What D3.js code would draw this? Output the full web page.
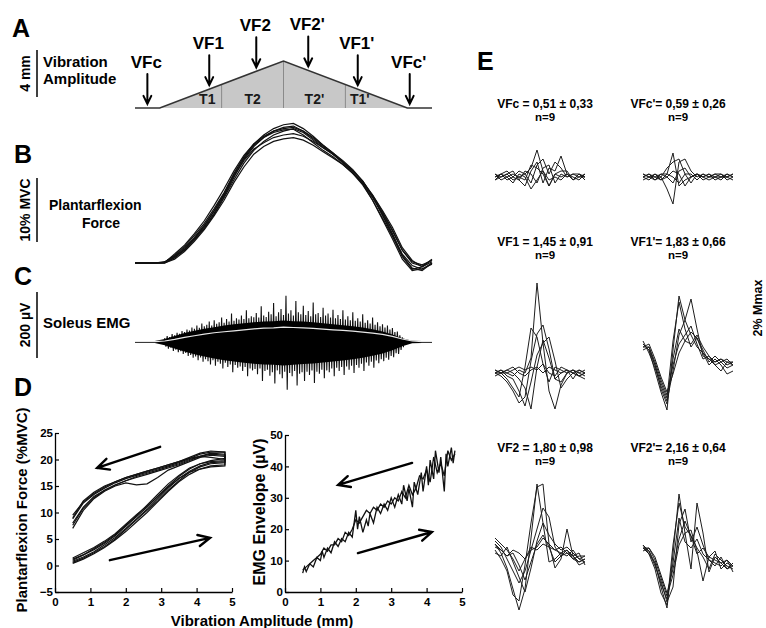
<!DOCTYPE html>
<html>
<head>
<meta charset="utf-8">
<script src="https://cdn.jsdelivr.net/npm/d3@7"></script>
<style>
  body { margin: 0; background: #fff; }
  text { font-family: "Liberation Sans", Arial, sans-serif; font-weight: bold; fill: #000; }
</style>
</head>
<body>
<svg id="fig" width="766" height="628"></svg>
<script>
// ---------- data ----------
// A: vibration protocol (time s, amplitude mm)
const protoTime = [0, 5, 30, 55, 60];
const protoAmp = [0, 0, 4, 0, 0];
const segBounds = [17.5, 30, 42.5];
const segNames = ["T1", "T2", "T2'", "T1'"];
const segLabelTime = [14.6, 23.75, 36.25, 45.4];
const vfNames = ["VFc", "VF1", "VF2", "VF2'", "VF1'", "VFc'"];
const vfTime = [2.5, 15, 24.5, 35, 45, 55.5];

// B: plantarflexion force (%MVC), sampled every 2 s
const forceTime = d3.range(0, 61, 2);
const forceTraces = [
  [0,0,0,0.1,1.2,2.6,4.3,6.2,8.5,11,14,16.6,18.6,20,21,21.6,21.8,21,19.8,18.4,17.2,16,14.6,12.8,10.4,7.6,4.6,1.2,-0.8,-1.2,0],
  [0,0,0,0,0.8,2,3.6,5.4,7.6,10.2,13,15.6,17.6,19,20,20.6,21,20.4,19.2,18,17,15.8,14.4,12.8,10.6,8,5.2,2,0,-0.5,0.5],
  [0,0,0,0.2,1,2.2,3.8,5.6,7.8,10.4,13.4,16.2,18.2,19.6,20.6,21.2,21.4,20.6,19.4,18.2,17,15.6,14,12.2,9.8,7,4.2,1,-1,-0.6,0.2],
  [0,0,0,0,0.6,1.8,3.4,5.2,7.4,9.8,12.6,15,17,18.2,19,19.4,19.6,19.2,18.4,17.4,16.4,15.4,14,12.4,10.2,7.8,5,2,0.2,-0.3,0.4],
  [0,0,0,0.1,1.4,2.8,4.6,6.6,9,11.6,14.4,16.8,18.6,19.8,20.6,21,21.2,20.6,19.6,18.4,17.2,15.8,14.2,12.4,9.8,6.8,3.8,0.6,-1.2,-0.9,-0.2],
  [0,0,0,0,0.9,2.1,3.8,5.8,8.2,10.8,13.8,16.4,18.4,19.6,20.4,20.8,20.9,20,18.8,17.6,16.6,15.4,14,12.6,10.6,8.2,5.6,2.4,0.4,-0.6,0.6],
  [0,0,0,0.1,1.1,2.4,4,5.9,8.1,10.6,13.6,16,17.8,18.8,19.6,20,20.2,19.8,19,18,17,15.8,14.4,12.8,10.4,7.4,4.4,1.4,-0.4,-1,0]
];

// C: soleus EMG (µV)
const emgCoreTime = d3.range(0, 61, 2);
const emgCoreUp = [3,3,3,9,18,27,34,40,45,50,54,57,60,62,63,65,63,62,60,57,54,51,48,44,39,32,23,11,4,3,3];
const emgCoreDown = [3,3,3,10,20,29,37,44,50,55,59,63,66,68,69,71,69,67,65,62,59,56,52,48,42,35,25,13,4,3,3];
const emgRms = [1,1,1,3,8,14,19,24,28,31,34,37,40,42,43,45,44,43,41,39,37,35,33,30,27,23,17,9,3,1,1];
const emgSpikeTime = d3.range(6, 54.01, 0.5);
const emgSpikeUp = [
  12,18,15,24,20,28,25,33,30,38, 35,44,40,50,43,56,48,52,62,50,
  66,55,60,74,58,70,62,86,64,72, 68,80,70,96,72,78,75,88,74,108,
  80,76,92,84,118,78,90,100,82,140, 86,96,80,124,90,84,110,82,94,78,
  120,84,88,76,104,80,86,74,98,72, 82,70,96,68,78,66,90,64,72,62,
  84,58,66,56,74,52,60,48,54,44, 50,38,42,30,32,20,14];
const emgSpikeDown = [
  14,20,17,27,23,31,28,36,33,42, 39,48,44,55,47,60,52,58,68,55,
  72,60,66,80,63,76,68,92,70,78, 74,88,76,104,80,86,82,98,80,118,
  88,84,102,92,126,86,98,110,90,145, 94,104,88,132,96,92,118,90,100,86,
  124,90,96,84,110,86,92,80,104,78, 88,76,100,74,84,72,94,70,78,66,
  88,62,72,60,78,56,64,52,58,48, 54,42,46,34,36,24,16];

// D left: force vs vibration amplitude loops
const loopAmp = [0.5,0.8,1.1,1.4,1.7,2.0,2.3,2.6,2.9,3.2,3.5,3.8,4.1,4.4,4.8];
const loopUp = [
  [0.8,1.6,2.6,3.9,5.3,7.0,8.8,10.6,12.6,14.6,16.4,17.8,18.8,19.4,19.6],
  [1.2,2.0,3.0,4.2,5.6,7.4,9.2,11.0,13.0,15.0,16.8,18.2,19.2,19.8,20.2],
  [0.4,1.2,2.2,3.4,4.8,6.4,8.2,10.0,12.0,14.0,15.8,17.2,18.2,18.8,19.0],
  [1.0,2.0,3.2,4.4,5.8,7.6,9.4,11.4,13.4,15.4,17.0,18.4,19.2,19.6,19.8],
  [0.6,1.4,2.4,3.6,5.0,6.8,8.6,10.4,12.2,14.2,16.0,17.6,18.6,19.2,19.4],
  [1.4,2.4,3.4,4.6,6.0,7.8,9.6,11.2,13.0,14.8,16.4,17.6,18.2,18.6,18.8]
];
const loopDown = [
  [8.0,11.0,13.0,14.2,15.2,16.0,16.6,17.2,17.8,18.4,19.0,19.8,20.6,21.2,21.0],
  [9.5,12.0,13.6,14.8,15.8,16.6,17.2,17.8,18.4,19.0,19.6,20.4,21.2,21.6,21.4],
  [7.0,10.4,12.6,14.0,15.0,15.6,15.2,15.4,16.6,18.0,18.8,19.6,20.4,20.8,20.6],
  [8.8,11.8,13.4,14.6,15.6,16.4,17.0,17.6,18.2,18.8,19.4,20.2,21.0,21.4,21.4],
  [7.6,10.8,12.8,14.2,15.2,16.0,16.8,17.4,18.0,18.6,19.2,20.0,20.6,21.0,20.8],
  [9.0,12.2,13.8,15.0,15.8,16.6,17.2,17.8,18.4,19.0,19.6,20.2,20.6,20.4,20.0]
];

// D right: EMG envelope vs vibration amplitude
const envAmpUp = [0.5,0.55,0.6,0.7,0.8,0.9,1.0,1.05,1.1,1.2,1.3,1.4,1.5,1.6,1.7,1.8,1.9,2.0,2.05,2.1,
  2.2,2.3,2.35,2.4,2.5,2.6,2.7,2.8,2.9,3.0,3.1,3.2,3.3,3.35,3.45,3.5,3.6,3.65,3.75,3.85,
  3.9,4.0,4.05,4.1,4.2,4.25,4.35,4.4,4.5,4.55,4.6,4.7,4.75,4.8];
const envValUp = [6,8,6.5,9,8,11,10,13,11,14,12.5,16,14.5,17,16,19,17.5,26,20,24,
  19,23,21,25,22,27,25,28,26,30,27,31,28,34,29,33,27,35,31,38,
  32,40,34,42,36,45,38,43,32,44,40,46,41,45];
const envAmpDown = [4.8,4.7,4.6,4.5,4.4,4.3,4.2,4.1,4.0,3.9,3.8,3.7,3.6,3.5,3.4,3.3,3.2,3.1,3.0,2.9,
  2.8,2.7,2.6,2.5,2.4,2.3,2.2,2.1,2.0,1.9,1.8,1.7,1.6,1.5,1.4,1.3,1.2,1.1,1.0,0.9,0.8,0.7,0.6,0.5];
const envValDown = [44,42,45,37,41,38,43,35,39,36,37,33,31,34,30,32,29,30,28,29,
  27,28,26,27,25,26,24,22,23,20,18,19,16,17,15,15,13,14,12,11,10,9,8,7];

// E: reflex responses (%Mmax), 16 samples each
const eTitles = ["VFc = 0,51 ± 0,33", "VFc'= 0,59 ± 0,26", "VF1 = 1,45 ± 0,91",
  "VF1'= 1,83 ± 0,66", "VF2 = 1,80 ± 0,98", "VF2'= 2,16 ± 0,64"];
const eN = [9, 9, 9, 9, 9, 9];
const eTracesVFc = [
  [0.1,0,0.1,-0.1,0,0.1,0.3,0.9,0.2,-0.3,0.1,0,0.1,-0.1,0,0.1],
  [0,0.1,-0.1,0,0.2,0.1,-0.2,0.4,0.6,0.1,0.5,0.3,0,0.1,0,0],
  [-0.1,0,0.1,0.2,-0.1,-0.3,0.2,0.5,-0.2,0.3,0.2,0.7,0.1,-0.1,0.1,0],
  [0.1,-0.1,0,-0.2,0.1,0,-0.4,-0.1,0.2,-0.1,0,-0.1,0.1,0,-0.1,0.1],
  [0,0.1,0.2,0,-0.1,0.2,0.1,-0.2,0.3,0.4,-0.2,0.1,0,0.1,0.1,-0.1],
  [-0.1,0.1,0,0.1,0,-0.1,0.4,0.3,0.1,-0.3,0.1,0.2,0.2,-0.1,0.1,0]
];
const eTracesVFcP = [
  [0,0.1,0,-0.1,0.1,0.8,-0.3,-0.1,0,0.1,0,0.1,-0.1,0,0.1,0],
  [0.1,0,-0.1,0,-0.4,-0.9,0.5,0.6,0.2,0,0.1,0,0.1,0,0,0.1],
  [0,-0.1,0.1,0,0.3,0.5,0.6,0.1,-0.2,0.1,0,-0.1,0,0.1,-0.1,0],
  [-0.1,0,0,0.1,0,-0.2,0.2,0.3,0,0.1,-0.1,0,0.1,0.1,0,-0.1],
  [0,0.1,-0.1,0.1,0.1,0,-0.2,0.1,0.1,-0.1,0.1,0,0,-0.1,0.1,0],
  [0.1,0,0.1,-0.1,0,0.2,0.1,-0.3,0,0.1,0,0.1,0,0,0,0.1]
];
const eTracesVF1 = [
  [0,0.1,0,-0.1,0.1,0,0.5,3.0,1.0,-0.6,-1.2,-0.4,0,0.1,0,-0.1],
  [0.1,0,-0.2,-0.5,-0.8,0.2,1.5,1.2,0.3,-0.3,0.2,0.1,0,0.1,-0.1,0],
  [0,-0.1,-0.3,-0.6,-1.0,-0.8,0.4,1.3,1.6,0.8,-0.2,-0.3,0,0.1,0,0.1],
  [-0.1,0,0.1,0,-0.2,-0.5,-1.2,0.2,1.1,0.5,-0.2,0,0.1,0,-0.1,-0.2],
  [0.1,0,0,0.1,0.2,0.1,0.2,0.1,0.3,0,-0.1,0.2,0.1,0,0.1,0],
  [0,0.1,-0.1,-0.2,-0.6,-1.1,-0.3,0.6,1.0,1.2,0.4,-0.5,-0.2,0,-0.1,0],
  [0,0,0.1,0.2,0,-0.1,0.1,0.2,0,0.2,0.1,0,0.1,-0.2,0.1,0]
];
const eTracesVF1P = [
  [0.7,0.5,-0.2,-0.9,-1.5,0.5,2.3,1.5,2.2,1.2,0.3,0.2,0,-0.2,0.1,0],
  [0.6,0.6,0,-0.6,-1.1,0.8,2.1,1.2,0.6,0.9,0.5,0.1,0.3,0.1,-0.1,0],
  [0.8,0.4,-0.1,-0.7,-1.2,-0.2,1.0,1.5,1.0,0.6,0.4,0.2,0.1,0.2,0,0.1],
  [0.5,0.6,0.1,-0.5,-1.0,0.0,0.7,1.0,1.3,0.7,0.2,0.3,0,0.1,0.2,0],
  [0.7,0.5,0,-0.8,-1.3,0.2,1.2,0.8,1.1,0.9,0.4,0,0.2,0,-0.3,-0.2],
  [0.6,0.7,0.2,-0.4,-0.9,-0.3,0.4,0.8,0.7,1.0,0.6,0.3,0.1,0.2,0.1,0.1]
];
const eTracesVF2 = [
  [0.3,0,-0.5,-1.2,-1.9,-1.2,0.5,2.3,1.0,-0.3,-0.2,0,0.1,-0.2,-0.3,-0.2],
  [0.1,-0.2,-0.6,-1.4,-1.6,-0.4,1.0,2.2,2.3,0.3,-0.5,-0.2,0.8,-0.1,-0.4,-0.3],
  [0.4,0.2,-0.2,-0.6,-1.0,-0.6,0.1,0.8,1.5,1.2,0.2,-0.1,0,-0.2,-0.1,-0.1],
  [0.2,0.1,-0.1,0,-0.4,-0.9,-0.3,0.3,0.6,0.2,0.1,0.2,0,-0.1,-0.3,-0.2],
  [0.5,0.3,0.1,-0.2,-0.6,-0.2,0.1,0.2,0.5,0.3,0.1,0,-0.1,0.1,-0.2,-0.3],
  [0,-0.1,0.2,-0.3,-0.8,-1.3,-0.5,0.4,1.0,0.6,0.3,0.1,0.2,0,-0.2,-0.1],
  [0.3,0.1,-0.1,0.1,0,-0.2,0.2,0.1,0.3,0.2,-0.3,-0.1,0.1,-0.1,0,-0.4]
];
const eTracesVF2P = [
  [0.5,0.4,0,-0.8,-1.5,0.3,2.3,1.0,-0.2,2.0,1.0,-0.3,0.2,0,-0.2,-0.1],
  [0.5,0.3,-0.2,-1.0,-1.4,0.6,2.0,1.2,0.9,0.5,0.2,-0.2,0.3,0.1,-0.1,-0.2],
  [0.6,0.4,-0.1,-0.6,-1.3,-0.8,1.3,1.8,0.7,1.2,0.6,0.1,0,-0.1,0.1,-0.3],
  [0.5,0.5,0.1,-0.5,-1.1,-0.4,0.6,1.0,1.1,0.4,-0.6,0.2,0.4,-0.2,0,-0.1],
  [0.6,0.3,0,-0.7,-1.2,0.0,1.5,0.7,0.5,0.8,0.3,0.1,-0.1,0.2,-0.2,0],
  [0.4,0.5,0.2,-0.4,-1.0,-0.2,0.8,1.4,0.9,0.3,0.5,0.2,0.1,0,0.1,-0.1]
];
const eTraces = [eTracesVFc, eTracesVFcP, eTracesVF1, eTracesVF1P, eTracesVF2, eTracesVF2P];

// ---------- drawing ----------
const svg = d3.select("#fig");
svg.append("rect").attr("width", 766).attr("height", 628).attr("fill", "#fff");

function arrow(g, x1, y1, x2, y2, head, width) {
  const a = Math.atan2(y2 - y1, x2 - x1);
  const s = 0.45;
  const hx1 = x2 - head * Math.cos(a - s), hy1 = y2 - head * Math.sin(a - s);
  const hx2 = x2 - head * Math.cos(a + s), hy2 = y2 - head * Math.sin(a + s);
  g.append("path")
    .attr("d", `M${x1},${y1}L${x2},${y2}M${hx1},${hy1}L${x2},${y2}L${hx2},${hy2}`)
    .attr("fill", "none").attr("stroke", "#000")
    .attr("stroke-width", width).attr("stroke-linecap", "round");
}

function letter(txt, x, y) {
  svg.append("text").attr("x", x).attr("y", y).style("font-size", "25px").text(txt);
}

function scaleBar(label, y1, y2) {
  svg.append("line").attr("x1", 37).attr("x2", 37).attr("y1", y1).attr("y2", y2)
    .attr("stroke", "#000").attr("stroke-width", 1.5);
  svg.append("text")
    .attr("transform", `translate(30,${(y1 + y2) / 2}) rotate(-90)`)
    .attr("text-anchor", "middle").style("font-size", "14px").text(label);
}

// shared time axis for A, B, C
const xT = d3.scaleLinear().domain([0, 60]).range([135, 432]);

// ----- A -----
letter("A", 12, 37);
scaleBar("4 mm", 50, 97);
svg.append("text").attr("x", 43).attr("y", 67).style("font-size", "15px").text("Vibration");
svg.append("text").attr("x", 43).attr("y", 84).style("font-size", "15px").text("Amplitude");

const yA = d3.scaleLinear().domain([0, 4]).range([108, 61]);
const ampAt = d3.scaleLinear().domain(protoTime).range(protoAmp);
const protoPts = protoTime.map((t, i) => [t, protoAmp[i]]);
const gA = svg.append("g");
gA.append("path")
  .attr("d", d3.area().x(d => xT(d[0])).y0(yA(0)).y1(d => yA(d[1]))(protoPts.slice(1, 4)))
  .attr("fill", "#c8c8c8");
segBounds.forEach(t => {
  gA.append("line").attr("x1", xT(t)).attr("x2", xT(t))
    .attr("y1", yA(0)).attr("y2", yA(ampAt(t)))
    .attr("stroke", "#8a8a8a").attr("stroke-width", 1);
});
gA.append("path")
  .attr("d", d3.line().x(d => xT(d[0])).y(d => yA(d[1]))(protoPts))
  .attr("fill", "none").attr("stroke", "#333").attr("stroke-width", 1.6);
segNames.forEach((n, i) => {
  gA.append("text").attr("x", xT(segLabelTime[i])).attr("y", 104)
    .attr("text-anchor", "middle").style("font-size", "14px").style("fill", "#1a1a1a").text(n);
});
vfNames.forEach((n, i) => {
  const x = xT(vfTime[i]);
  const tip = yA(ampAt(vfTime[i])) - 4;
  const lab = tip - 36;
  gA.append("text").attr("x", x - 1).attr("y", lab)
    .attr("text-anchor", "middle").style("font-size", "17px").text(n);
  arrow(gA, x, lab + 6, x, tip, 9, 2);
});

// ----- B -----
letter("B", 14, 163);
scaleBar("10% MVC", 178, 242);
svg.append("text").attr("x", 49).attr("y", 210).style("font-size", "14px").text("Plantarflexion");
svg.append("text").attr("x", 101).attr("y", 228).attr("text-anchor", "middle")
  .style("font-size", "14px").text("Force");
const yB = d3.scaleLinear().domain([0, 10]).range([263, 199]);
const forceLine = d3.line().x((d, i) => xT(forceTime[i])).y(d => yB(d));
svg.append("g").selectAll("path").data(forceTraces).join("path")
  .attr("d", forceLine).attr("fill", "none")
  .attr("stroke", "#111").attr("stroke-width", 1.2);

// ----- C -----
letter("C", 14, 285);
scaleBar("200 µV", 292, 358);
svg.append("text").attr("x", 43).attr("y", 328).style("font-size", "15px").text("Soleus EMG");
const yC = d3.scaleLinear().domain([0, 100]).range([342, 309]);
const gC = svg.append("g");
const zig = [];
emgSpikeTime.forEach((t, i) => {
  zig.push([t, emgSpikeUp[i]]);
  zig.push([t + 0.25, -emgSpikeDown[i]]);
});
gC.append("path")
  .attr("d", d3.line().x(d => xT(d[0])).y(d => yC(d[1]))(zig))
  .attr("fill", "none").attr("stroke", "#111").attr("stroke-width", 1.1);
gC.append("path")
  .attr("d", d3.area()
    .x((d, i) => xT(emgCoreTime[i]))
    .y0((d, i) => yC(-emgCoreDown[i]))
    .y1(d => yC(d))(emgCoreUp))
  .attr("fill", "#000");
gC.append("line").attr("x1", xT(0)).attr("x2", xT(60)).attr("y1", yC(0)).attr("y2", yC(0))
  .attr("stroke", "#000").attr("stroke-width", 2);
gC.append("path")
  .attr("d", d3.line().x((d, i) => xT(emgCoreTime[i])).y(d => yC(d))(emgRms))
  .attr("fill", "none").attr("stroke", "#e8e8e8").attr("stroke-width", 1.2);

// ----- D -----
letter("D", 14, 396);

function styleAxis(g) {
  g.select(".domain").attr("stroke", "#000").attr("stroke-width", 1.3);
  g.selectAll(".tick line").attr("stroke", "#000").attr("stroke-width", 1.2);
  g.selectAll(".tick text").style("font-size", "11.5px")
    .style("font-family", "'Liberation Sans', Arial, sans-serif").style("font-weight", "bold");
}
const intFmt = d3.format("d");

const xDL = d3.scaleLinear().domain([0, 5]).range([55, 232]);
const yDL = d3.scaleLinear().domain([-5, 25]).range([592, 433]);
svg.append("g").attr("transform", "translate(0,592)")
  .call(d3.axisBottom(xDL).tickValues([0, 1, 2, 3, 4, 5]).tickFormat(intFmt)
    .tickSizeInner(-4).tickSizeOuter(0).tickPadding(6))
  .call(styleAxis);
svg.append("g").attr("transform", "translate(55,0)")
  .call(d3.axisLeft(yDL).tickValues([-5, 0, 5, 10, 15, 20, 25]).tickFormat(intFmt)
    .tickSizeInner(-4).tickSizeOuter(0).tickPadding(2))
  .call(styleAxis);

const loopLine = d3.line().x(d => xDL(d[0])).y(d => yDL(d[1]));
const loops = loopUp.map((up, k) => {
  const pts = loopAmp.map((a, i) => [a, up[i]]);
  const back = loopAmp.map((a, i) => [a, loopDown[k][i]]).reverse();
  return pts.concat(back);
});
svg.append("g").selectAll("path").data(loops).join("path")
  .attr("d", loopLine).attr("fill", "none")
  .attr("stroke", "#111").attr("stroke-width", 1.2);
arrow(svg, xDL(2.97), yDL(22.4), xDL(1.19), yDL(18.4), 13, 2.4);
arrow(svg, xDL(1.55), yDL(1.0), xDL(4.38), yDL(5.2), 13, 2.4);

svg.append("text")
  .attr("transform", `translate(27,510) rotate(-90)`)
  .attr("text-anchor", "middle").style("font-size", "15px").text("Plantarflexion Force (%MVC)");

const xDR = d3.scaleLinear().domain([0, 5]).range([285, 462]);
const yDR = d3.scaleLinear().domain([0, 50]).range([592, 435]);
svg.append("g").attr("transform", "translate(0,592)")
  .call(d3.axisBottom(xDR).tickValues([0, 1, 2, 3, 4, 5]).tickFormat(intFmt)
    .tickSizeInner(-4).tickSizeOuter(0).tickPadding(6))
  .call(styleAxis);
svg.append("g").attr("transform", "translate(285,0)")
  .call(d3.axisLeft(yDR).tickValues([0, 10, 20, 30, 40, 50]).tickFormat(intFmt)
    .tickSizeInner(-4).tickSizeOuter(0).tickPadding(2))
  .call(styleAxis);
const envLine = d3.line().x(d => xDR(d[0])).y(d => yDR(d[1]));
svg.append("path").attr("d", envLine(envAmpUp.map((a, i) => [a, envValUp[i]])))
  .attr("fill", "none").attr("stroke", "#111").attr("stroke-width", 1.3);
svg.append("path").attr("d", envLine(envAmpDown.map((a, i) => [a, envValDown[i]])))
  .attr("fill", "none").attr("stroke", "#111").attr("stroke-width", 1.3);
arrow(svg, xDR(3.59), yDR(41.1), xDR(1.5), yDR(34.1), 13, 2.4);
arrow(svg, xDR(2.06), yDR(12.4), xDR(4.15), yDR(19.1), 13, 2.4);

svg.append("text")
  .attr("transform", `translate(265,512) rotate(-90)`)
  .attr("text-anchor", "middle").style("font-size", "16px").text("EMG Envelope (µV)");
svg.append("text").attr("x", 262).attr("y", 626).attr("text-anchor", "middle")
  .style("font-size", "15px").text("Vibration Amplitude (mm)");

// ----- E -----
letter("E", 477, 70);
const colX = [495, 643];
const titleX = [545, 678];
const rowTitleY = [108, 246, 452];
const panelBase = [177, 177, 373, 365, 553, 563];
const xE = d3.scaleLinear().domain([0, 15]);
eTitles.forEach((title, p) => {
  const col = p % 2, row = Math.floor(p / 2);
  svg.append("text").attr("x", titleX[col]).attr("y", rowTitleY[row])
    .attr("text-anchor", "middle").style("font-size", "12px").text(title);
  svg.append("text").attr("x", titleX[col]).attr("y", rowTitleY[row] + 13)
    .attr("text-anchor", "middle").style("font-size", "11.5px").text("n=" + eN[p]);
  const xs = xE.copy().range([colX[col], colX[col] + 90]);
  const ys = d3.scaleLinear().domain([0, 1]).range([panelBase[p], panelBase[p] - 30]);
  svg.append("g").selectAll("path").data(eTraces[p]).join("path")
    .attr("d", d3.line().x((d, i) => xs(i)).y(d => ys(d)))
    .attr("fill", "none").attr("stroke", "#1e1e1e").attr("stroke-width", 1);
});
svg.append("text")
  .attr("transform", `translate(762,308) rotate(-90)`)
  .attr("text-anchor", "middle").style("font-size", "12.5px").text("2% Mmax");
</script>
</body>
</html>
